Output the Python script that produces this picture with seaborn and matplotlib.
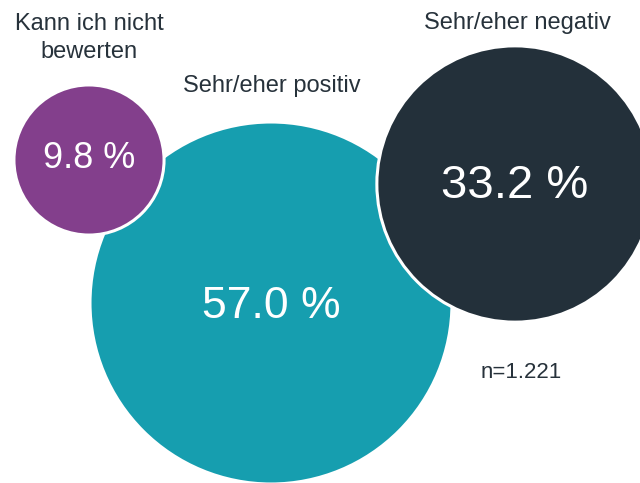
import matplotlib
matplotlib.use("Agg")
import matplotlib.pyplot as plt
import seaborn as sns
import numpy as np
import pandas as pd

categories = ["Sehr/eher positiv", "Sehr/eher negativ", "Kann ich nicht\nbewerten"]
values = [57.0, 33.2, 9.8]
value_labels = ["57.0 %", "33.2 %", "9.8 %"]
note = "n=1.221"

# layout (pixel space of the 640x483 canvas)
centers_x = [271, 515, 89]
centers_y = [303, 184, 160]
clrs = ["#169eaf", "#23303a", "#833f8c"]
label_x = [272, 517, 89]
label_y = [86, 23, 38]
value_y = [306, 186, 159]
value_fs = [32, 34, 26]
txt_clr = "#27323b"

DPI = 100
px_per_unit = 181 / np.sqrt(57.0)


def marker_area(v):
    r_px = px_per_unit * np.sqrt(v)
    d_pt = 2 * r_px * 72 / DPI
    return d_pt ** 2


sns.set_style("white")
plt.rcParams["font.family"] = ["Liberation Sans", "DejaVu Sans"]

df = pd.DataFrame({"cat": categories, "value": values,
                   "x": centers_x, "y": centers_y})

fig = plt.figure(figsize=(6.4, 4.83), dpi=DPI)
ax = fig.add_axes([0, 0, 1, 1])
sns.scatterplot(data=df, x="x", y="y", hue="cat", palette=clrs,
                size="cat", sizes={c: marker_area(v) for c, v in zip(categories, values)},
                edgecolor="white", linewidth=2.2, alpha=1, legend=False, ax=ax)
ax.set_xlim(0, 640)
ax.set_ylim(483, 0)
ax.set_axis_off()

for lx, ly, cat in zip(label_x, label_y, categories):
    ax.text(lx, ly, cat, ha="center", va="center", fontsize=17,
            color=txt_clr, linespacing=1.3)

for cx, vy, lab, fs in zip(centers_x, value_y, value_labels, value_fs):
    ax.text(cx, vy, lab, ha="center", va="center", fontsize=fs, color="white")

ax.text(521, 372, note, ha="center", va="center", fontsize=16, color=txt_clr)

fig.savefig("out.png", dpi=DPI)
